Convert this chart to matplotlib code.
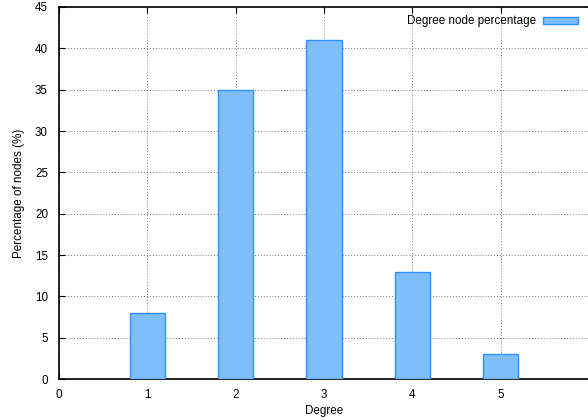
import matplotlib
matplotlib.use("Agg")
import matplotlib.pyplot as plt

plt.rcParams['font.family'] = ['Liberation Sans', 'DejaVu Sans']
plt.rcParams['font.size'] = 8.4

degrees = [1, 2, 3, 4, 5]
percent = [8, 35, 41, 13, 3]
xticks = [0, 1, 2, 3, 4, 5]
yticks = list(range(0, 50, 5))

fig = plt.figure(figsize=(5.88, 4.2), dpi=100)
ax = fig.add_axes([59 / 588, 41 / 420, 530 / 588, 372 / 420])

ax.bar(degrees, percent, width=0.4, color='#80bfff', edgecolor='#2f8fff',
       linewidth=1.0, label='Degree node percentage', zorder=3)

ax.set_xlim(0, 6)
ax.set_ylim(0, 45)
ax.set_xticks(xticks)
ax.set_yticks(yticks)
ax.tick_params(direction='in', length=4, top=True, right=False, width=0.8)
ax.tick_params(axis='y', pad=8)
ax.tick_params(axis='x', pad=7)
ax.grid(True, linestyle=(0, (1, 2)), color='#777777', linewidth=0.7, zorder=0)
ax.spines['right'].set_visible(False)
for s in ['left', 'bottom', 'top']:
    ax.spines[s].set_linewidth(1.2)

ax.set_xlabel('Degree', labelpad=3)
ax.set_ylabel('Percentage of nodes (%)', labelpad=7)

ax.legend(loc='upper right', frameon=False, markerfirst=False,
          handlelength=3.0, handleheight=0.55, handletextpad=0.6,
          borderaxespad=0.3, bbox_to_anchor=(0.995, 1.0))

fig.savefig('out.png', dpi=100)
